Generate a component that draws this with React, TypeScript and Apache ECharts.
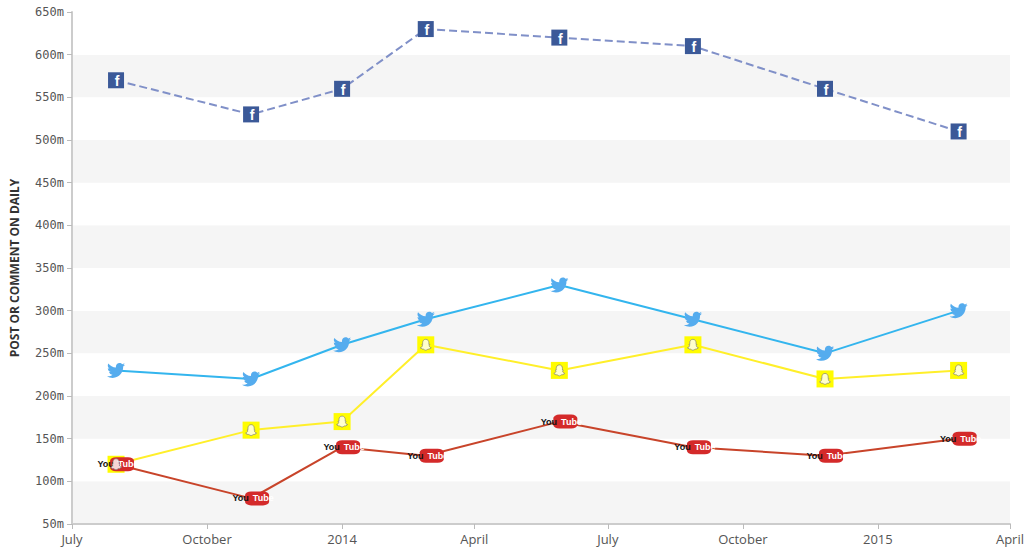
import { useEffect, useRef } from 'react';
import * as echarts from 'echarts';

const dates = ['2013-07-31', '2013-10-31', '2014-01-01', '2014-02-27', '2014-05-29', '2014-08-28', '2014-11-26', '2015-02-25'];
const facebook = [570, 530, 560, 630, 620, 610, 560, 510];
const facebookPct = [57, 53, 56, 63, 62, 61, 56, 51];
const twitter = [230, 220, 260, 290, 330, 290, 250, 300];
const twitterPct = [23, 22, 26, 29, 33, 29, 25, 30];
const snapchat = [120, 160, 170, 260, 230, 260, 220, 230];
const snapchatPct = [12, 16, 17, 26, 23, 26, 22, 23];
const youtube = [120, 80, 140, 130, 170, 140, 130, 150];
const youtubePct = [12, 8, 14, 13, 17, 14, 13, 15];

const tickDates = ['2013-07-01', '2013-10-01', '2014-01-01', '2014-04-01', '2014-07-01', '2014-10-01', '2015-01-01', '2015-04-01'];
const tickLabels = ['July', 'October', '2014', 'April', 'July', 'October', '2015', 'April'];

const ts = (d: string) => new Date(d + 'T00:00:00Z').getTime();
const tickValues = tickDates.map(ts);

const font = '"DejaVu Sans Mono", monospace';

const bird = 'path://M24 4.6c-.9.4-1.8.6-2.8.8 1-.6 1.8-1.6 2.2-2.7-1 .6-2 1-3.1 1.2-.9-1-2.2-1.6-3.6-1.6-2.7 0-4.9 2.2-4.9 4.9 0 .4 0 .8.1 1.1C7.7 8.1 4.1 6.1 1.7 3.1c-.4.7-.7 1.6-.7 2.5 0 1.7.9 3.2 2.2 4.1-.8 0-1.6-.2-2.2-.6v.1c0 2.4 1.7 4.4 3.9 4.8-.4.1-.8.2-1.3.2-.3 0-.6 0-.9-.1.6 2 2.4 3.4 4.6 3.4-1.7 1.3-3.8 2.1-6.1 2.1-.4 0-.8 0-1.2-.1 2.2 1.4 4.8 2.2 7.5 2.2 9.1 0 14-7.5 14-14v-.6c1-.7 1.8-1.6 2.5-2.5z';
const ghost = 'path://M12 2c3.5 0 5.5 2.6 5.5 5.5v3c.6.2 1.5 0 1.8.3.3.5-1.5 1-1.6 1.3.4 1.8 2.2 3.4 4 3.8-.2.8-1.8.9-2.6 1.1-.3.6 0 1.2-.5 1.200-.9 0-1.8-.3-2.8 0-1.1.4-2 1.8-3.8 1.8s-2.7-1.4-3.8-1.8c-1-.3-1.9 0-2.8 0-.5 0-.2-.6-.5-1.2-.8-.2-2.4-.3-2.6-1.1 1.8-.4 3.6-2 4-3.8-.1-.3-1.900-.8-1.6-1.3.3-.3 1.2-.1 1.8-.3v-3C6.5 4.6 8.5 2 12 2z';

function pairs(values: number[]) {
  return values.map((v, i) => [ts(dates[i]), v]);
}

function lineSeries(name: string, values: number[], pct: number[], color: string, labelColor: string, dashed = false, dist = 6) {
  return {
    name,
    type: 'line',
    data: pairs(values),
    symbol: 'circle',
    symbolSize: 1,
    showSymbol: true,
    itemStyle: { color, opacity: 0 },
    z: 2,
    labelLayout: { hideOverlap: false },
    lineStyle: { color, width: 2, type: dashed ? 'dashed' : 'solid' },
    label: {
      show: true,
      position: 'right',
      distance: dist,
      color: labelColor,
      fontFamily: font,
      fontSize: 11,
      formatter: (p: any) => pct[p.dataIndex] + '%',
    },
  };
}

function iconSeries(symbol: string, size: number | number[], color: string, extra: any = {}) {
  return {
    type: 'scatter',
    data: [] as any[],
    symbol,
    symbolSize: size,
    z: 3,
    itemStyle: { color, opacity: 1 },
    ...extra,
  };
}

export default function App() {
  const ref = useRef<HTMLDivElement | null>(null);

  useEffect(() => {
    if (!ref.current) return undefined;
    const chart = echarts.init(ref.current, undefined, { renderer: 'svg' });

    const fbBox = iconSeries('rect', 16, '#3b5998', {
      data: pairs(facebook),
      label: { show: true, position: 'inside', formatter: 'f', color: '#fff', fontWeight: 'bold', fontSize: 14, fontFamily: 'Arial', offset: [1, 1] },
    });
    const scBox = iconSeries('rect', 17, '#fffc00', { data: pairs(snapchat) });
    const scGhost = iconSeries(ghost, 11, '#fff', { data: pairs(snapchat), z: 4, itemStyle: { color: '#fff', borderColor: '#777', borderWidth: 0.8 } });
    const twBird = iconSeries(bird, [18, 15], '#55acee', { data: pairs(twitter) });
    const ytBox = iconSeries('roundRect', [24, 14], '#d42a2a', {
      data: pairs(youtube),
      symbolOffset: [6, 0],
      label: {
        show: true,
        position: 'inside',
        offset: [-4, 0],
        formatter: '{y|You}{t|Tube}',
        rich: {
          y: { color: '#111', fontSize: 9, fontWeight: 'bold', fontFamily: '"Liberation Sans Narrow", Arial', padding: [0, 4, 0, 0] },
          t: { color: '#fff', fontSize: 9, fontWeight: 'bold', fontFamily: '"Liberation Sans Narrow", Arial' },
        },
      },
    });

    chart.setOption({
      animation: false,
      grid: { left: 71, right: 16, top: 12, bottom: 33 },
      xAxis: {
        type: 'value',
        min: tickValues[0],
        max: tickValues[tickValues.length - 1],
        axisLine: { show: true, lineStyle: { color: '#ccc', width: 2 } },
        axisTick: { show: true, customValues: tickValues, length: 5, lineStyle: { color: '#bbb' } },
        axisLabel: {
          customValues: tickValues,
          color: '#555',
          fontFamily: '"Open Sans", sans-serif',
          fontSize: 13,
          margin: 8,
          formatter: (v: number) => tickLabels[tickValues.indexOf(v)] ?? '',
        },
        splitLine: { show: false },
      },
      yAxis: {
        type: 'value',
        min: 50,
        max: 650,
        interval: 50,
        name: 'POST OR COMMENT ON DAILY',
        nameLocation: 'middle',
        nameGap: 52,
        nameTextStyle: { color: '#333', fontWeight: 'bold', fontSize: 12, fontFamily: '"Open Sans", sans-serif' },
        axisLine: { show: true, lineStyle: { color: '#ccc', width: 2 } },
        axisTick: { show: true, length: 5, lineStyle: { color: '#bbb' } },
        axisLabel: { color: '#555', fontFamily: font, fontSize: 12, formatter: (v: number) => v + 'm' },
        splitLine: { show: false },
        splitArea: { show: true, areaStyle: { color: ['#f5f5f5', '#ffffff'] } },
      },
      series: [
        lineSeries('Facebook', facebook, facebookPct, '#8090c8', '#5a6aa8', true, 8),
        lineSeries('Twitter', twitter, twitterPct, '#33b5ee', '#2a9ad8', false, 10),
        lineSeries('Snapchat', snapchat, snapchatPct, '#ffef2a', '#d4a62a', false, 10),
        lineSeries('YouTube', youtube, youtubePct, '#c8442a', '#e8303a', false, 24),
        fbBox,
        twBird,
        scBox,
        scGhost,
        ytBox,
      ],
    });

    return () => chart.dispose();
  }, []);

  return <div ref={ref} style={{ position: 'absolute', left: 0, top: 0, width: 1027, height: 557 }} />;
}
